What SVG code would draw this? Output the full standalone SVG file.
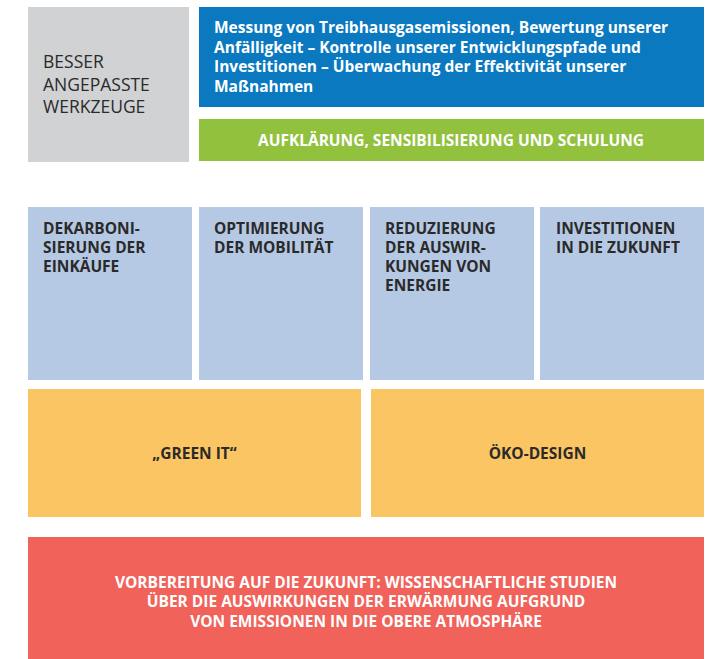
<svg xmlns="http://www.w3.org/2000/svg" width="711" height="659" viewBox="0 0 711 659">
<style>
text{font-family:"Open Sans","Noto Sans","Liberation Sans",sans-serif;}
.b{font-weight:700;font-size:15.5px;}
.dk{fill:#2a2a2a;}
.w{fill:#ffffff;}
.gray{fill:#d1d2d4;}
.blue{fill:#0a79bf;}
.green{fill:#92c13e;}
.lb{fill:#b6c9e4;}
.yel{fill:#fcc564;}
.red{fill:#f0625a;}
.c{text-anchor:middle;}
</style>
<rect width="711" height="659" fill="#ffffff"/>
<g id="werkzeuge">
<rect class="gray" x="28" y="7" width="161" height="155"/>
<text class="dk" font-size="17.5"><tspan x="43" y="68">BESSER</tspan><tspan x="43" y="90.5">ANGEPASSTE</tspan><tspan x="43" y="113">WERKZEUGE</tspan></text>
</g>
<g id="messung">
<rect class="blue" x="199" y="7" width="505" height="100"/>
<text class="b w"><tspan x="214" y="33">Messung von Treibhausgasemissionen, Bewertung unserer</tspan><tspan x="214" y="52.5">Anfälligkeit – Kontrolle unserer Entwicklungspfade und</tspan><tspan x="214" y="72">Investitionen – Überwachung der Effektivität unserer</tspan><tspan x="214" y="91.5">Maßnahmen</tspan></text>
</g>
<g id="aufklaerung">
<rect class="green" x="199" y="119" width="505" height="42"/>
<text class="b w c" x="451" y="146">AUFKLÄRUNG, SENSIBILISIERUNG UND SCHULUNG</text>
</g>
<g id="dekarbonisierung">
<rect class="lb" x="28" y="207" width="164" height="173"/>
<text class="b dk"><tspan x="43" y="234">DEKARBONI-</tspan><tspan x="43" y="253">SIERUNG DER</tspan><tspan x="43" y="272">EINKÄUFE</tspan></text>
</g>
<g id="mobilitaet">
<rect class="lb" x="199" y="207" width="164" height="173"/>
<text class="b dk"><tspan x="214" y="234">OPTIMIERUNG</tspan><tspan x="214" y="253">DER MOBILITÄT</tspan></text>
</g>
<g id="energie">
<rect class="lb" x="370" y="207" width="164" height="173"/>
<text class="b dk"><tspan x="385" y="234">REDUZIERUNG</tspan><tspan x="385" y="253">DER AUSWIR-</tspan><tspan x="385" y="272">KUNGEN VON</tspan><tspan x="385" y="291">ENERGIE</tspan></text>
</g>
<g id="investitionen">
<rect class="lb" x="540" y="207" width="164" height="173"/>
<text class="b dk"><tspan x="556" y="234">INVESTITIONEN</tspan><tspan x="556" y="253">IN DIE ZUKUNFT</tspan></text>
</g>
<g id="greenit">
<rect class="yel" x="28" y="389" width="333" height="128"/>
<text class="b dk c" x="194.5" y="459">„GREEN IT“</text>
</g>
<g id="oekodesign">
<rect class="yel" x="371" y="389" width="333" height="128"/>
<text class="b dk c" x="537.5" y="459">ÖKO-DESIGN</text>
</g>
<g id="vorbereitung">
<rect class="red" x="28" y="537" width="676" height="122"/>
<text class="b w c"><tspan x="366" y="587.5">VORBEREITUNG AUF DIE ZUKUNFT: WISSENSCHAFTLICHE STUDIEN</tspan><tspan x="366" y="607">ÜBER DIE AUSWIRKUNGEN DER ERWÄRMUNG AUFGRUND</tspan><tspan x="366" y="626.5">VON EMISSIONEN IN DIE OBERE ATMOSPHÄRE</tspan></text>
</g>
<g id="connectors"></g>
</svg>
